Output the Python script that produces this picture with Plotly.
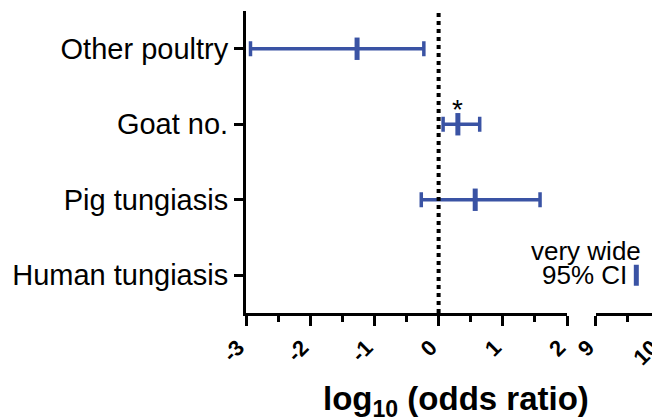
import plotly.graph_objects as go

categories = ["Other poultry", "Goat no.", "Pig tungiasis", "Human tungiasis"]
row_pos = [4, 3, 2, 1]
or_point = [-1.27, 0.30, 0.57]
ci_low = [-2.93, 0.07, -0.27]
ci_high = [-0.23, 0.64, 1.58]
human_point = 9.63
x_ticks_left = [-3, -2, -1, 0, 1, 2]
x_ticks_right = [9, 10]

BLUE = "#3A53A4"
FONT = "Liberation Sans, Arial, sans-serif"

fig = go.Figure()

fig.add_trace(go.Scatter(
    x=or_point, y=row_pos[:3], mode="markers",
    marker=dict(symbol="line-ns", size=16, line=dict(width=5, color=BLUE), color=BLUE),
    error_x=dict(type="data", symmetric=False,
                 array=[h - p for h, p in zip(ci_high, or_point)],
                 arrayminus=[p - l for p, l in zip(or_point, ci_low)],
                 color=BLUE, thickness=3.5, width=7.5),
    xaxis="x", yaxis="y", showlegend=False, cliponaxis=False))

fig.add_trace(go.Scatter(
    x=[human_point], y=[row_pos[3]], mode="markers",
    marker=dict(symbol="line-ns", size=15, line=dict(width=5, color=BLUE), color=BLUE),
    xaxis="x2", yaxis="y", showlegend=False, cliponaxis=False))

fig.add_shape(type="line", xref="x", yref="y", x0=0, x1=0, y0=0.5, y1=4.5,
              line=dict(color="black", width=4, dash="dot"))

fig.add_annotation(x=or_point[1], y=3.2, xref="x", yref="y", text="*", showarrow=False,
                   font=dict(size=28, family=FONT, color="black"))
fig.add_annotation(x=1.0, y=1.32, xref="paper", yref="y", text="very wide", showarrow=False,
                   xanchor="right", xshift=-17, font=dict(size=26, family=FONT, color="black"))
fig.add_annotation(x=1.0, y=1.0, xref="paper", yref="y", text="95% CI", showarrow=False,
                   xanchor="right", xshift=-31, font=dict(size=26, family=FONT, color="black"))
fig.add_annotation(x=0.507, y=-0.29, xref="paper", yref="paper",
                   text="<b>log<sub>10</sub> (odds ratio)</b>", showarrow=False,
                   yanchor="middle", font=dict(size=33, family=FONT, color="black"))

axis_common = dict(showline=True, linewidth=3, linecolor="black", ticks="outside",
                   ticklen=10, tickwidth=3, tickcolor="black", showgrid=False, zeroline=False,
                   tickangle=-45, automargin=False, ticklabelshift=-8,
                   ticklabeloverflow="allow",
                   tickfont=dict(size=22, family=FONT, color="black"),
                   minor=dict(ticks="outside", dtick=0.5, ticklen=6, tickwidth=3, tickcolor="black"))

fig.update_layout(
    width=652, height=411,
    margin=dict(l=238, r=0, t=3, b=106),
    plot_bgcolor="white", paper_bgcolor="white",
    xaxis=dict(domain=[0, 0.7754], range=[-3, 2], tickvals=x_ticks_left,
               ticktext=["<b>%d</b>" % v for v in x_ticks_left], **axis_common),
    xaxis2=dict(domain=[0.8454, 1.0], range=[9, 10], tickvals=x_ticks_right,
                ticktext=["<b>%d</b>" % v for v in x_ticks_right], anchor="y", **axis_common),
    yaxis=dict(range=[0.5, 4.5], tickvals=row_pos, ticktext=categories, automargin=False,
               showline=True, linewidth=3, linecolor="black", ticks="outside",
               ticklen=9, tickwidth=3, tickcolor="black", showgrid=False, zeroline=False,
               ticklabelstandoff=0,
               tickfont=dict(size=29, family=FONT, color="black")),
)

fig.write_html("out.html")
